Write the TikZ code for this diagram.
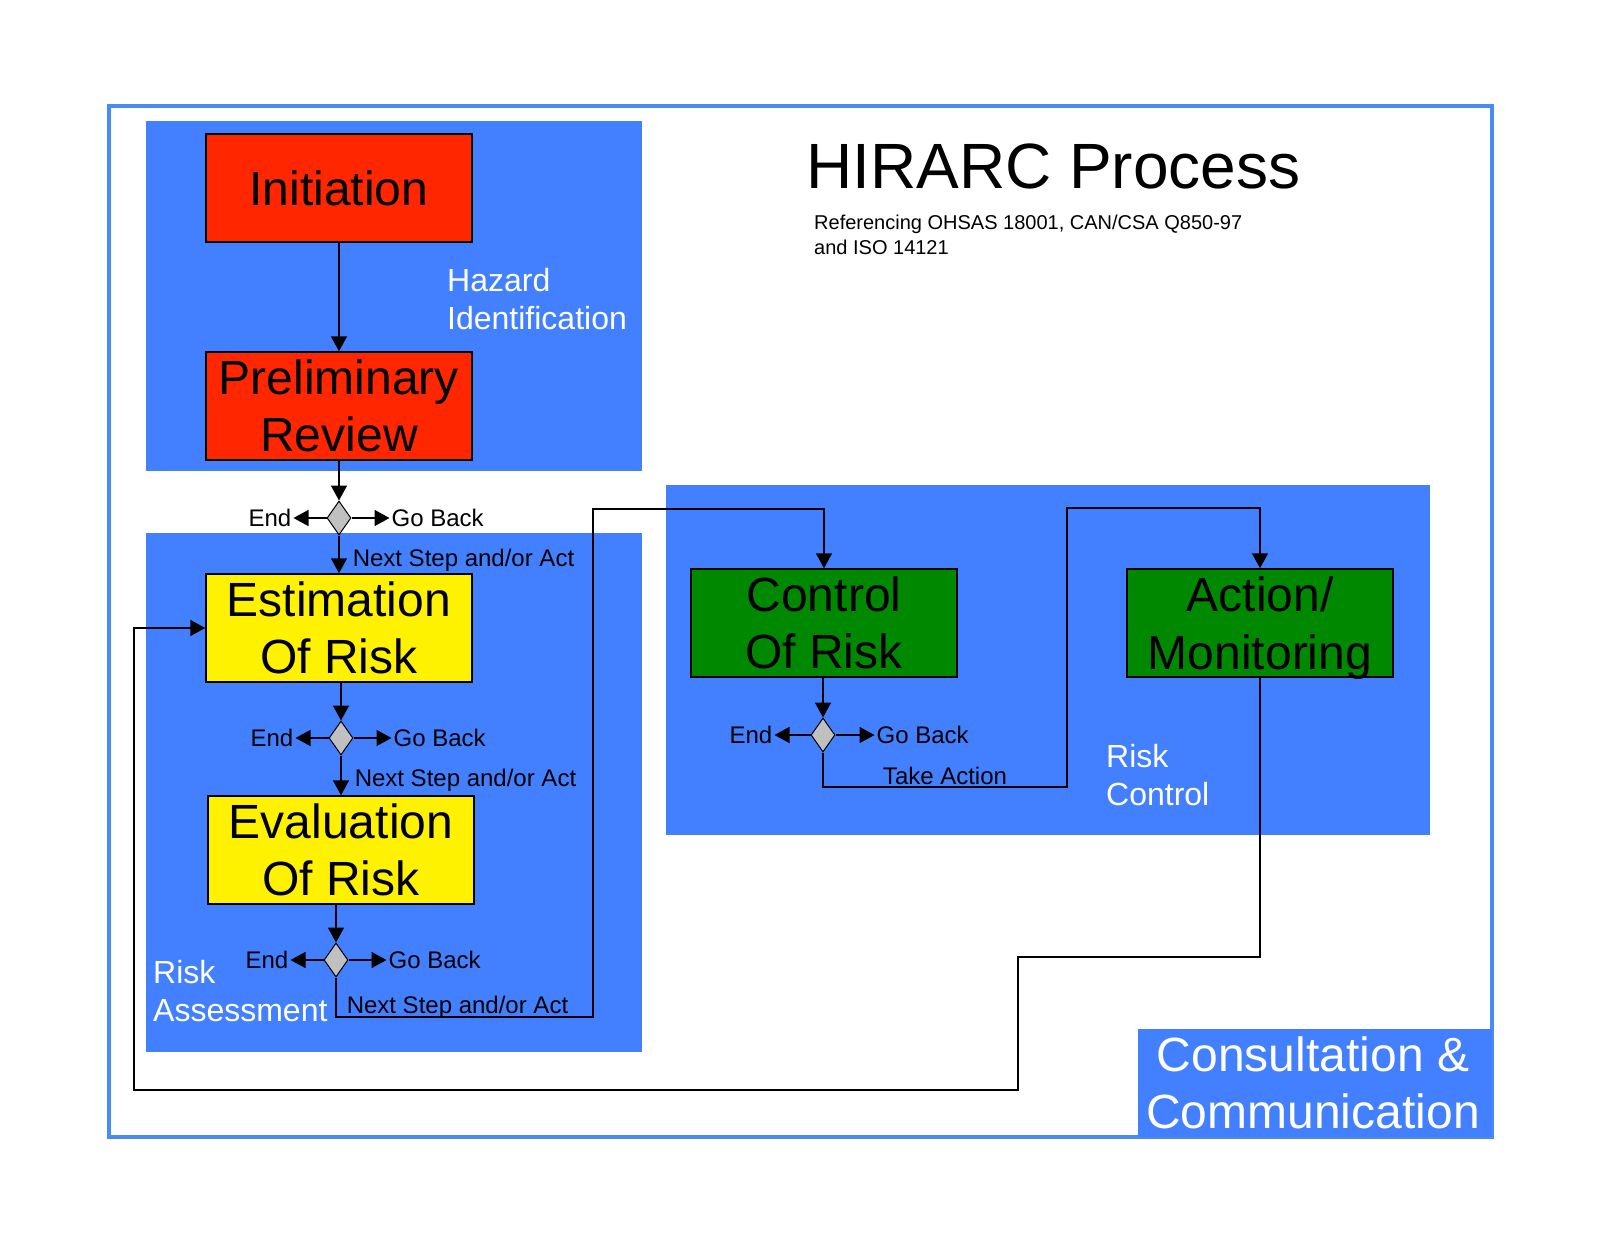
\documentclass[tikz,border=0pt]{standalone}
\usepackage{fontspec}
\setmainfont{Liberation Sans}
\usetikzlibrary{positioning,shapes.geometric,arrows.meta}
\definecolor{areablue}{RGB}{66,128,255}
\definecolor{frameblue}{RGB}{74,138,245}
\definecolor{initred}{RGB}{255,38,0}
\definecolor{riskgreen}{RGB}{0,136,0}
\definecolor{decgray}{RGB}{192,192,192}

\begin{document}
\begin{tikzpicture}[x=1pt, y=-1pt,
    stage/.style={draw=black, line width=1.5pt, minimum width=266pt, minimum height=108pt,
                  inner sep=0pt, align=center, font=\fontsize{48}{57}\selectfont},
    choice/.style={diamond, draw=black, line width=1pt, fill=decgray,
                   minimum width=24pt, minimum height=34pt, inner sep=0pt},
    tag/.style={font=\fontsize{24}{28}\selectfont, inner sep=2pt},
    zone/.style={text=white, align=left, inner sep=0pt, font=\fontsize{32}{38.5}\selectfont},
    flow/.style={line width=1.5pt, -{Triangle[length=15pt, width=16pt]}}]

\useasboundingbox (0,0) rectangle (1600,1236);

% frame and areas
\draw[frameblue, line width=4pt] (109,106) rectangle (1492,1137);
\fill[areablue] (146,121) rectangle (642,471);
\fill[areablue] (146,533) rectangle (642,1052);
\fill[areablue] (666,485) rectangle (1430,835);
\fill[areablue] (1138,1029) rectangle (1492,1137);

% title
\node[anchor=west, inner sep=0pt, font=\fontsize{64}{70}\selectfont] (title) at (806,166) {HIRARC Process};
\node[anchor=west, align=left, inner sep=0pt, font=\fontsize{20}{24.5}\selectfont] (subtitle) at (814,235)
    {Referencing OHSAS 18001, CAN/CSA Q850-97\\and ISO 14121};

% stages
\node[stage, fill=initred] (init) at (339,188) {Initiation};
\node[stage, fill=initred] (prel) at (339,406) {Preliminary\\Review};
\node[stage, fill=yellow] (est) at (339,628) {Estimation\\Of Risk};
\node[stage, fill=yellow] (eva) at (341,850) {Evaluation\\Of Risk};
\node[stage, fill=riskgreen] (ctl) at (824,623) {Control\\Of Risk};
\node[stage, fill=riskgreen, text depth=0pt] (act) at (1260,623) {Action/\\[1pt]Monitoring};

% decisions
\node[choice] (d1) at (339,518) {};
\node[choice] (d2) at (341,738) {};
\node[choice] (d3) at (336,960) {};
\node[choice] (d4) at (823,735) {};

\node[tag, left=33pt of d1] (end1) {End};
\node[tag, right=38pt of d1] (back1) {Go Back};
\node[tag, left=33pt of d2] (end2) {End};
\node[tag, right=38pt of d2] (back2) {Go Back};
\node[tag, left=33pt of d3] (end3) {End};
\node[tag, right=38pt of d3] (back3) {Go Back};
\node[tag, left=36pt of d4] (end4) {End};
\node[tag, right=39pt of d4] (back4) {Go Back};

% corners
\coordinate (k1) at (593,1017);
\coordinate (k2) at (593,509);
\coordinate (k3) at (1067,787);
\coordinate (k4) at (1067,508);
\coordinate (k5) at (1018,957);
\coordinate (k6) at (134,1090);

% area labels
\node[zone, anchor=west] (hazlbl) at (447,299) {Hazard\\Identification};
\node[zone, anchor=west] (asslbl) at (153,991) {Risk\\Assessment};
\node[zone, anchor=west] (ctllbl) at (1106,775) {Risk\\Control};
\node[text=white, align=center, inner sep=0pt, font=\fontsize{48}{57}\selectfont] (consult) at (1313,1083)
    {Consultation \&\\Communication};

% connectors
\draw[flow] (init) -- (prel);
\draw[flow] (prel) -- (d1);
\draw[flow] (d1) -- node[tag, right, xshift=11pt, yshift=-6pt] (next1) {Next Step and/or Act} (est);
\draw[flow] (est.south -| d2) -- (d2);
\draw[flow] (d2) -- node[tag, right, xshift=11pt, yshift=-5pt] (next2) {Next Step and/or Act} (eva.north -| d2);
\draw[flow] (eva.south -| d3) -- (d3);
\draw[flow] (d3) |- node[tag, pos=0.5, above right, xshift=8pt, yshift=-4pt] (next3) {Next Step and/or Act} (k1) -- (k2) -| (ctl);
\draw[flow] (ctl.south -| d4) -- (d4);
\draw[flow] (d4) |- node[tag, pos=0.75, above] (take) {Take Action} (k3) -- (k4) -| (act);
\draw[flow] (act) |- (k5) |- (k6) |- (est);

\foreach \d in {1,2,3,4} {
  \draw[flow] (d\d) -- (end\d);
  \draw[flow] (d\d) -- (back\d);
}
\end{tikzpicture}
\end{document}
